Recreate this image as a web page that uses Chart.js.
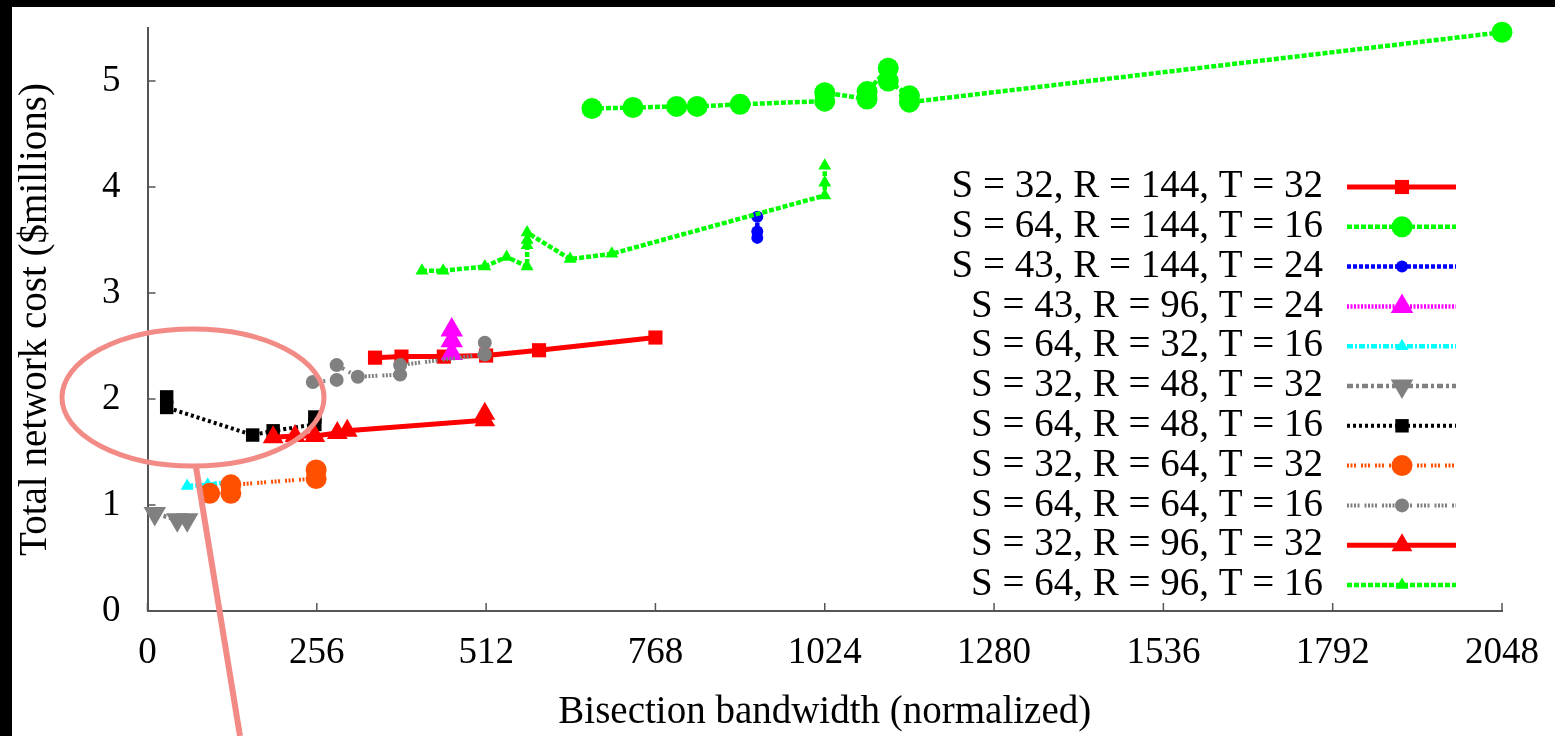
<!DOCTYPE html>
<html>
<head>
<meta charset="utf-8">
<script src="https://cdn.jsdelivr.net/npm/chart.js@4.4.1/dist/chart.umd.min.js"></script>
<style>
  html, body { margin: 0; padding: 0; background: #fff; }
  #wrap { position: relative; width: 1555px; height: 736px; }
</style>
</head>
<body>
<div id="wrap"><canvas id="cost"></canvas></div>
<script>
// series names (legend order)
var seriesLabels = [
  'S = 32, R = 144, T = 32', 'S = 64, R = 144, T = 16', 'S = 43, R = 144, T = 24',
  'S = 43, R = 96, T = 24', 'S = 64, R = 32, T = 16', 'S = 32, R = 48, T = 32',
  'S = 64, R = 48, T = 16', 'S = 32, R = 64, T = 32', 'S = 64, R = 64, T = 16',
  'S = 32, R = 96, T = 32', 'S = 64, R = 96, T = 16'
];

// bisection bandwidth (x) and total cost in $M (y), one pair per series
var bw_32_144_32 = [344, 384, 448, 512, 592, 768];
var cost_32_144_32 = [2.39, 2.40, 2.40, 2.41, 2.46, 2.58];

var bw_64_144_16 = [672, 734, 800, 831, 896, 1024, 1024, 1088, 1088, 1120, 1120, 1152, 1152, 2048];
var cost_64_144_16 = [4.74, 4.75, 4.76, 4.76, 4.78, 4.81, 4.89, 4.83, 4.90, 5.12, 5.00, 4.86, 4.80, 5.46];

var bw_43_144_24 = [922, 922, 922];
var cost_43_144_24 = [3.72, 3.58, 3.52];

var bw_43_96_24 = [460, 460, 460];
var cost_43_96_24 = [2.43, 2.55, 2.65];

var bw_64_32_16 = [60, 91, 125];
var cost_64_32_16 = [1.18, 1.19, 1.22];

var bw_32_48_32 = [11, 45, 60];
var cost_32_48_32 = [0.92, 0.86, 0.86];

var bw_64_48_16 = [29, 29, 159, 190, 253, 253];
var cost_64_48_16 = [2.02, 1.92, 1.66, 1.70, 1.76, 1.83];

var bw_32_64_32 = [94, 126, 126, 255, 255];
var cost_32_64_32 = [1.11, 1.11, 1.19, 1.25, 1.33];

var bw_64_64_16 = [250, 286, 286, 318, 382, 382, 510, 510];
var cost_64_64_16 = [2.16, 2.18, 2.32, 2.21, 2.23, 2.32, 2.42, 2.53];

var bw_32_96_32 = [190, 223, 253, 287, 302, 510, 510];
var cost_32_96_32 = [1.64, 1.65, 1.65, 1.68, 1.70, 1.80, 1.86];

var bw_64_96_16 = [415, 447, 510, 543, 574, 574, 574, 574, 639, 702, 1024, 1024, 1024];
var cost_64_96_16 = [3.21, 3.21, 3.25, 3.34, 3.25, 3.45, 3.50, 3.57, 3.32, 3.37, 3.92, 4.04, 4.20];

var xTicks = [0, 256, 512, 768, 1024, 1280, 1536, 1792, 2048];
var yTicks = [0, 1, 2, 3, 4, 5];

var allX = [bw_32_144_32, bw_64_144_16, bw_43_144_24, bw_43_96_24, bw_64_32_16, bw_32_48_32,
            bw_64_48_16, bw_32_64_32, bw_64_64_16, bw_32_96_32, bw_64_96_16];
var allY = [cost_32_144_32, cost_64_144_16, cost_43_144_24, cost_43_96_24, cost_64_32_16, cost_32_48_32,
            cost_64_48_16, cost_32_64_32, cost_64_64_16, cost_32_96_32, cost_64_96_16];

// look of each series: colour, line width, dash, marker
var styles = [
  { c: '#ff0000', w: 5,   dash: [],                         pt: 'rect',     r: 10,  rot: 0 },
  { c: '#00ff00', w: 4.5, dash: [5, 2],                     pt: 'circle',   r: 10.5, rot: 0 },
  { c: '#0000ff', w: 4.5, dash: [4, 2],                     pt: 'circle',   r: 6,   rot: 0 },
  { c: '#ff00ff', w: 4.5, dash: [2, 1.5],                   pt: 'triangle', r: 13,  rot: 0 },
  { c: '#00ffff', w: 4.5, dash: [6, 2, 2, 2],               pt: 'triangle', r: 7.5, rot: 0 },
  { c: '#808080', w: 4.5, dash: [6, 3, 3, 3],               pt: 'triangle', r: 13,  rot: 180 },
  { c: '#000000', w: 4,   dash: [3, 3],                     pt: 'rect',     r: 9.5, rot: 0 },
  { c: '#ff5000', w: 4,   dash: [2, 1.5, 2, 1.5, 2, 5],     pt: 'circle',   r: 10.5, rot: 0 },
  { c: '#808080', w: 4,   dash: [2, 1.5, 2, 1.5, 2, 1.5, 2, 5], pt: 'circle', r: 7, rot: 0 },
  { c: '#ff0000', w: 5,   dash: [],                         pt: 'triangle', r: 12,  rot: 0 },
  { c: '#00ff00', w: 4.5, dash: [5, 2],                     pt: 'triangle', r: 7.5, rot: 0 }
];

var serif = "'Liberation Serif', 'Times New Roman', serif";
var axisGray = '#555555';

var datasets = seriesLabels.map(function(name, i) {
  var s = styles[i];
  return {
    label: name,
    data: allX[i].map(function(x, k) { return { x: x, y: allY[i][k] }; }),
    showLine: true,
    borderColor: s.c,
    backgroundColor: s.c,
    borderWidth: s.w,
    borderDash: s.dash,
    pointStyle: s.pt,
    pointRotation: s.rot,
    pointRadius: s.r,
    pointHoverRadius: s.r,
    pointBorderWidth: 0,
    pointBackgroundColor: s.c,
    clip: false,
    order: 100 - i // later series on top, like gnuplot
  };
});

function marker(ctx, s, x, y) {
  ctx.save();
  ctx.fillStyle = s.c;
  ctx.setLineDash([]);
  if (Chart.helpers && Chart.helpers.drawPoint) {
    Chart.helpers.drawPoint(ctx, { pointStyle: s.pt, rotation: s.rot, radius: s.r, borderWidth: 0 }, x, y);
  }
  ctx.restore();
}

var decor = {
  id: 'decor',
  beforeDraw: function(chart) {
    var ctx = chart.ctx;
    ctx.save();
    ctx.fillStyle = '#fff';
    ctx.fillRect(0, 0, chart.width, chart.height);
    ctx.fillStyle = '#000';
    ctx.fillRect(0, 0, chart.width, 7);
    ctx.fillRect(0, 0, 12, chart.height);
    ctx.restore();
  },
  afterDraw: function(chart) {
    var ctx = chart.ctx;
    var xs = chart.scales.x, ys = chart.scales.y;
    var a = chart.chartArea;
    ctx.save();
    // inward tick marks
    ctx.strokeStyle = axisGray;
    ctx.lineWidth = 1.5;
    ctx.beginPath();
    xTicks.forEach(function(v) {
      var px = xs.getPixelForValue(v);
      ctx.moveTo(px, a.bottom);
      ctx.lineTo(px, a.bottom - 8);
    });
    yTicks.forEach(function(v) {
      var py = ys.getPixelForValue(v);
      ctx.moveTo(a.left, py);
      ctx.lineTo(a.left + 8, py);
    });
    ctx.stroke();

    // key, right aligned text with a line sample
    ctx.font = '39px ' + serif;
    ctx.textAlign = 'right';
    ctx.textBaseline = 'middle';
    seriesLabels.forEach(function(name, i) {
      var s = styles[i];
      var y = 187 + i * 39.8;
      ctx.fillStyle = '#000';
      ctx.fillText(name, 1323, y);
      ctx.strokeStyle = s.c;
      ctx.lineWidth = s.w;
      ctx.setLineDash(s.dash);
      ctx.beginPath();
      ctx.moveTo(1347, y);
      ctx.lineTo(1456, y);
      ctx.stroke();
      marker(ctx, s, 1402, y);
    });

    // highlight ellipse and pointer
    ctx.setLineDash([]);
    ctx.strokeStyle = '#f28b86';
    ctx.lineWidth = 5;
    ctx.beginPath();
    ctx.ellipse(193, 397.5, 131, 68.5, 0, 0, Math.PI * 2);
    ctx.stroke();
    ctx.lineWidth = 6;
    ctx.beginPath();
    ctx.moveTo(196, 467);
    ctx.lineTo(240, 736);
    ctx.stroke();
    ctx.restore();
  }
};

// invisible tick marks give the label gap without growing the layout padding
var hiddenGrid = function(len) {
  return { display: true, drawOnChartArea: false, drawTicks: true, tickLength: len, color: 'rgba(0,0,0,0)' };
};

new Chart(document.getElementById('cost'), {
  type: 'scatter',
  data: { datasets: datasets },
  plugins: [decor],
  options: {
    responsive: true,
    maintainAspectRatio: false,
    animation: false,
    layout: { padding: { top: 28, right: 53, left: 0, bottom: 0 } },
    plugins: {
      legend: { display: false },
      tooltip: { enabled: false }
    },
    scales: {
      x: {
        type: 'linear',
        min: 0,
        max: 2048,
        afterFit: function(s) { s.height = 125; },
        afterBuildTicks: function(s) { s.ticks = xTicks.map(function(v) { return { value: v }; }); },
        ticks: {
          font: { family: serif, size: 37 }, color: '#000', padding: 2, maxRotation: 0,
          callback: function(v) { return String(v); }
        },
        grid: hiddenGrid(18),
        border: { display: true, color: axisGray, width: 2 },
        title: {
          display: true,
          text: 'Bisection bandwidth (normalized)',
          font: { family: serif, size: 39 },
          color: '#000',
          padding: { top: 0, bottom: 0 }
        }
      },
      y: {
        min: 0,
        max: 5.5,
        afterFit: function(s) { s.width = 147.5; },
        afterBuildTicks: function(s) { s.ticks = yTicks.map(function(v) { return { value: v }; }); },
        ticks: {
          font: { family: serif, size: 37 }, color: '#000', padding: 2,
          callback: function(v) { return String(v); }
        },
        grid: hiddenGrid(25),
        border: { display: true, color: axisGray, width: 2 },
        title: {
          display: true,
          text: 'Total network cost ($millions)',
          font: { family: serif, size: 39 },
          color: '#000',
          padding: { top: 12, bottom: 0 }
        }
      }
    }
  }
});
</script>
</body>
</html>
